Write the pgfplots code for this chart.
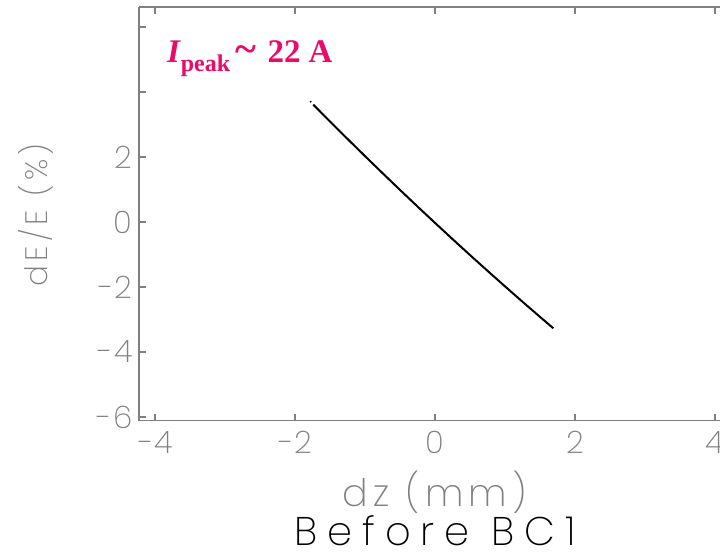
\documentclass[border=0pt]{standalone}
\usepackage{fontspec}
\usepackage{pgfplots}
\pgfplotsset{compat=1.18}
\setmainfont{Poppins ExtraLight}
\newfontfamily\annfont{Liberation Serif}
\definecolor{axgray}{RGB}{128,128,128}
\definecolor{peakpink}{RGB}{235,10,105}

\begin{document}
\begin{tikzpicture}[x=1pt,y=1pt]
\path[use as bounding box] (0,0) rectangle (720,555);
\begin{axis}[
  at={(139pt,134.3pt)}, anchor=south west,
  scale only axis, width=581pt, height=413.7pt,
  xmin=-4.229, xmax=4.071, ymin=-6.114, ymax=6.615,
  axis x line*=box, axis y line*=left,
  axis line style={axgray, line width=1.3pt},
  xtick={-4,-2,0,2,4},
  xticklabels={−4,−2,0,2,4},
  ytick={-6,-4,-2,0,2,4,6},
  yticklabels={−6,−4,−2,0,2,{},{}},
  tick align=inside, major tick length=7pt,
  tick style={axgray, line width=1.3pt},
  /pgf/number format/assume math mode=true,
  ticklabel style={font=\fontsize{31}{33}\selectfont\addfontfeatures{LetterSpace=8}, color=axgray},
  xticklabel style={anchor=north, yshift=-7pt},
  yticklabel style={anchor=east, xshift=-3pt},
  xlabel={dz (mm)},
  xlabel style={at={(axis description cs:0.509,-0.174)}, anchor=center,
    font=\fontsize{38}{40}\selectfont\addfontfeatures{LetterSpace=14}, color=axgray},
  ylabel={dE/E (\%)},
  ylabel style={at={(axis description cs:-0.1773,0.497)}, anchor=center,
    font=\fontsize{31}{33}\selectfont\addfontfeatures{LetterSpace=14}, color=axgray},
  clip=false,
]
% energy chirp along the bunch
\addplot[black, line width=2pt] coordinates {
  (-1.74,3.612) (-1.5,3.091) (-1.25,2.555) (-1.0,2.026) (-0.75,1.503)
  (-0.5,0.986) (-0.25,0.475) (0.0,-0.029) (0.25,-0.527) (0.5,-1.018)
  (0.75,-1.503) (1.0,-1.982) (1.25,-2.455) (1.5,-2.921) (1.69,-3.271)
};
% stray head particle
\addplot[only marks, mark=*, mark size=0.7pt, black] coordinates {(-1.776,3.70)};
\node[anchor=base west, text=peakpink, font=\annfont\bfseries\fontsize{33}{35}\selectfont, inner sep=0pt]
  at (axis description cs:0.048,0.867)
  {\textit{I}\raisebox{-0.3em}{\fontsize{24}{26}\selectfont peak}\,{\fontsize{40}{40}\selectfont\textasciitilde}\,\,22 A};
\node[anchor=center, inner sep=0pt, font=\fontsize{40}{42}\selectfont\addfontfeatures{LetterSpace=25}, text=black]
  at (axis description cs:0.509,-0.266) {Before BC1};
\end{axis}
\end{tikzpicture}
\end{document}
